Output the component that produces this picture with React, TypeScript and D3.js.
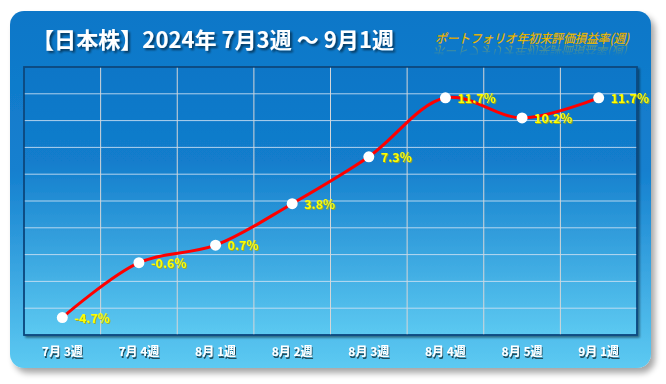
import React, { useEffect } from "react";
import * as d3 from "d3";

const categories = ["7月 3週", "7月 4週", "8月 1週", "8月 2週", "8月 3週", "8月 4週", "8月 5週", "9月 1週"];
const values = [-4.7, -0.6, 0.7, 3.8, 7.3, 11.7, 10.2, 11.7];
const yTicks = [-6, -4, -2, 0, 2, 4, 6, 8, 10, 12, 14];
const title = "【日本株】2024年 7月3週 ～ 9月1週";
const subtitle = "ポートフォリオ年初来評価損益率(週)";

const W = 666;
const H = 384;
const card = { x: 10, y: 11, w: 641, h: 357, r: 14 };
const plot = { l: 24, t: 67, r: 637, b: 335 };

export default function App() {
  useEffect(() => {
    document.body.style.margin = "0";
  }, []);

  const x = d3.scaleBand<string>().domain(categories).range([plot.l, plot.r]).padding(0);
  const y = d3.scaleLinear().domain([-6, 14]).range([plot.b, plot.t]);
  const cx = (i: number) => (x(categories[i]) as number) + x.bandwidth() / 2;

  const line = d3
    .line<number>()
    .x((_, i) => cx(i))
    .y((d) => y(d))
    .curve(d3.curveCatmullRom.alpha(0.5));

  const jp = "'Noto Sans CJK JP', 'Noto Sans', sans-serif";

  return (
    <svg width={W} height={H} style={{ display: "block" }}>
      <defs>
        <linearGradient id="cardG" x1="0" y1="0" x2="0" y2="1">
          <stop offset="0%" stopColor="#0d77c8" />
          <stop offset="45%" stopColor="#1580cf" />
          <stop offset="100%" stopColor="#5dcaf2" />
        </linearGradient>
        <linearGradient id="plotG" x1="0" y1="0" x2="0" y2="1">
          <stop offset="0%" stopColor="#0e76c7" />
          <stop offset="35%" stopColor="#127dcc" />
          <stop offset="100%" stopColor="#5cc9f1" />
        </linearGradient>
        <linearGradient id="reflG" gradientUnits="userSpaceOnUse" x1="0" y1="45" x2="0" y2="56">
          <stop offset="0%" stopColor="#ffffff" stopOpacity="0.45" />
          <stop offset="100%" stopColor="#ffffff" stopOpacity="0" />
        </linearGradient>
        <mask id="reflMask" maskUnits="userSpaceOnUse" x="400" y="40" width="260" height="20">
          <rect x={400} y={45} width={260} height={13} fill="url(#reflG)" />
        </mask>
        <filter id="cardShadow" x="-5%" y="-5%" width="112%" height="115%">
          <feGaussianBlur in="SourceAlpha" stdDeviation="3" />
          <feOffset dx="4" dy="5" result="b" />
          <feComponentTransfer>
            <feFuncA type="linear" slope="0.35" />
          </feComponentTransfer>
          <feMerge>
            <feMergeNode />
            <feMergeNode in="SourceGraphic" />
          </feMerge>
        </filter>
        <filter id="plotShadow" x="-5%" y="-5%" width="110%" height="110%">
          <feGaussianBlur in="SourceAlpha" stdDeviation="1" />
          <feOffset dx="2" dy="2" />
          <feComponentTransfer>
            <feFuncA type="linear" slope="0.45" />
          </feComponentTransfer>
          <feMerge>
            <feMergeNode />
            <feMergeNode in="SourceGraphic" />
          </feMerge>
        </filter>
        <filter id="txtShadow" x="-10%" y="-30%" width="120%" height="160%">
          <feGaussianBlur in="SourceAlpha" stdDeviation="1.2" />
          <feOffset dx="1.5" dy="2" />
          <feComponentTransfer>
            <feFuncA type="linear" slope="0.55" />
          </feComponentTransfer>
          <feMerge>
            <feMergeNode />
            <feMergeNode in="SourceGraphic" />
          </feMerge>
        </filter>
        <filter id="lblShadow" x="-10%" y="-30%" width="130%" height="170%">
          <feOffset in="SourceAlpha" dx="1" dy="1.5" />
          <feGaussianBlur stdDeviation="0.6" />
          <feComponentTransfer>
            <feFuncA type="linear" slope="0.6" />
          </feComponentTransfer>
          <feMerge>
            <feMergeNode />
            <feMergeNode in="SourceGraphic" />
          </feMerge>
        </filter>
        <filter id="dataShadow" x="-10%" y="-30%" width="130%" height="170%">
          <feOffset in="SourceAlpha" dx="1" dy="1" />
          <feGaussianBlur stdDeviation="0.7" />
          <feComponentTransfer>
            <feFuncR type="linear" slope="0" intercept="0.45" />
            <feFuncG type="linear" slope="0" intercept="0.4" />
            <feFuncB type="linear" slope="0" intercept="0" />
            <feFuncA type="linear" slope="0.8" />
          </feComponentTransfer>
          <feMerge>
            <feMergeNode />
            <feMergeNode in="SourceGraphic" />
          </feMerge>
        </filter>
      </defs>

      <rect x={0} y={0} width={W} height={H} fill="#ffffff" />
      <rect
        x={card.x}
        y={card.y}
        width={card.w}
        height={card.h}
        rx={card.r}
        ry={card.r}
        fill="url(#cardG)"
        filter="url(#cardShadow)"
      />

      {/* title */}
      <text
        x={32}
        y={48}
        fill="#ffffff"
        fontFamily={jp}
        fontWeight="bold"
        fontSize={22}
        textLength={362}
        lengthAdjust="spacingAndGlyphs"
        filter="url(#txtShadow)"
      >
        {title}
      </text>

      {/* subtitle with reflection */}
      <text
        transform="translate(435,43) skewX(-14)"
        fill="#ffd400"
        stroke="#c98a00"
        strokeWidth={0.3}
        fontFamily={jp}
        fontSize={12.5}
        textLength={194}
        lengthAdjust="spacingAndGlyphs"
      >
        {subtitle}
      </text>
      <g mask="url(#reflMask)">
        <text
          transform="translate(435,46) scale(1,-1) skewX(14)"
          fill="#ffd400"
          fontFamily={jp}
          fontSize={12.5}
          textLength={194}
          lengthAdjust="spacingAndGlyphs"
        >
          {subtitle}
        </text>
      </g>

      {/* plot area */}
      <rect
        x={plot.l}
        y={plot.t}
        width={plot.r - plot.l}
        height={plot.b - plot.t}
        fill="url(#plotG)"
        stroke="#0c4a80"
        strokeWidth={1.5}
        filter="url(#plotShadow)"
      />

      {/* grid */}
      {yTicks.slice(1, -1).map((t) => (
        <line
          key={"h" + t}
          x1={plot.l}
          x2={plot.r}
          y1={y(t)}
          y2={y(t)}
          stroke="#cfe2f3"
          strokeOpacity={0.85}
          strokeWidth={1}
        />
      ))}
      {categories.slice(1).map((c) => (
        <line
          key={"v" + c}
          x1={x(c) as number}
          x2={x(c) as number}
          y1={plot.t}
          y2={plot.b}
          stroke="#d4d6d8"
          strokeWidth={1}
        />
      ))}
      <rect
        x={plot.l}
        y={plot.t}
        width={plot.r - plot.l}
        height={plot.b - plot.t}
        fill="none"
        stroke="#0c4a80"
        strokeWidth={1.5}
      />

      {/* line */}
      <path d={line(values) || ""} fill="none" stroke="#ff0000" strokeWidth={3} strokeLinejoin="round" />

      {values.map((v, i) => (
        <circle key={"c" + i} cx={cx(i)} cy={y(v)} r={5.5} fill="#ffffff" />
      ))}

      {values.map((v, i) => (
        <text
          key={"l" + i}
          x={cx(i) + 12}
          y={y(v) + 5}
          fill="#ffff00"
          fontFamily={jp}
          fontWeight="bold"
          fontSize={12.5}
          filter="url(#dataShadow)"
        >
          {v.toFixed(1) + "%"}
        </text>
      ))}

      {/* x labels */}
      {categories.map((c, i) => (
        <text
          key={"x" + c}
          x={cx(i)}
          y={356}
          textAnchor="middle"
          fill="#ffffff"
          fontFamily={jp}
          fontWeight="bold"
          fontSize={12}
          filter="url(#lblShadow)"
        >
          {c}
        </text>
      ))}
    </svg>
  );
}
